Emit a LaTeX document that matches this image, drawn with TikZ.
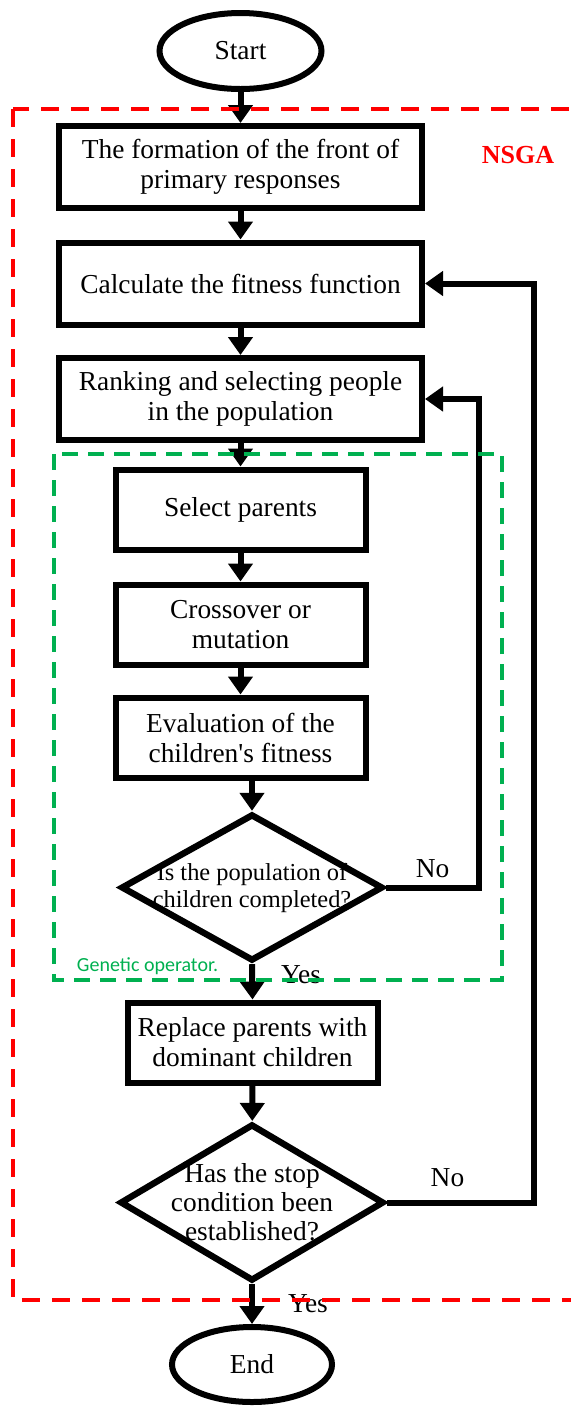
\documentclass[tikz,border=0pt]{standalone}
\usepackage{fontspec}
\setmainfont{Liberation Serif}
\newfontfamily\opfont{Carlito}
\usetikzlibrary{shapes.geometric,arrows.meta}
\definecolor{nsgared}{RGB}{255,0,0}
\definecolor{opgreen}{RGB}{0,176,80}

\begin{document}
\begin{tikzpicture}[x=0.5pt,y=-0.5pt,
    txt/.style={font=\fontsize{13.7}{15}\selectfont},
    procbox/.style={draw,line width=3pt,align=center,inner sep=0pt,txt},
    bigbox/.style={procbox,minimum width=181.5pt,minimum height=41pt},
    smallbox/.style={procbox,minimum width=125pt,minimum height=40pt},
    term/.style={draw,ellipse,line width=3pt,inner sep=0pt,minimum width=81pt,minimum height=38pt,txt},
    decision/.style={draw,diamond,line width=3.2pt,inner sep=0pt},
    flow/.style={line width=3pt,-{Triangle[width=12pt,length=9pt]}},
    frame/.style={line width=2pt,dash pattern=on 9pt off 6pt}]
    \useasboundingbox (0,0) rectangle (570,1410);
    \node[term] (start) at (240.5,51) {Start};
    \node[bigbox] (front) at (240.5,167) {The formation of the front of\\primary responses};
    \node[bigbox] (calc) at (240.5,283.5) {Calculate the fitness function};
    \node[bigbox] (rank) at (240.5,399) {Ranking and selecting people\\in the population};
    \node[smallbox] (sel) at (240.5,509.5) {Select parents};
    \node[smallbox] (cross) at (240.5,624.5) {Crossover or\\mutation};
    \node[smallbox] (evalc) at (240.5,737.5) {Evaluation of the\\children\textquotesingle s fitness};
    \node[decision,minimum width=131pt,minimum height=73.5pt,
      label={[align=center,font=\fontsize{12.2}{13.5}\selectfont]center:{Is the population of\\children completed?}}]
      (full) at (252,887.5) {};
    \node[smallbox] (repl) at (252.5,1042.5) {Replace parents with\\dominant children};
    \node[decision,minimum width=132pt,minimum height=78.5pt,
      label={[align=center,font=\fontsize{13.7}{14.5}\selectfont]center:{Has the stop\\condition been\\established?}}]
      (stop) at (252,1202.5) {};
    \node[term,minimum width=80pt,minimum height=37.5pt] (end) at (252,1364.5) {End};

    \draw[flow] (start) -- (front);
    \draw[flow] (front) -- (calc);
    \draw[flow] (calc) -- (rank);
    \draw[flow] (rank) -- (sel);
    \draw[flow] (sel) -- (cross);
    \draw[flow] (cross) -- (evalc);
    \draw[flow] (evalc.south -| full.north) -- (full.north);
    \draw[flow] (full.south) -- node[pos=0.29,right,inner sep=0pt,xshift=13pt,txt] {Yes} (repl.north);
    \draw[flow] (full.east) -- ++(93,0) node[pos=0.5,above,txt] {No} |- (rank.east);
    \draw[flow] (repl) -- (stop);
    \draw[flow] (stop.east) -- ++(147,0) node[pos=0.41,above,yshift=3pt,txt] {No} |- (calc.east);
    \draw[flow] (stop.south) -- node[pos=0.5,right,inner sep=0pt,xshift=16.5pt,txt] {Yes} (end.north);

    \node[font=\fontsize{13}{15}\selectfont\bfseries,text=nsgared] (nsga) at (518,155) {NSGA};
    \node[font=\opfont\fontsize{10}{12}\selectfont,text=opgreen] (genop) at (147.5,966) {Genetic operator.};
    \draw[frame,nsgared] (13,109) rectangle (600,1300);
    \draw[frame,opgreen,line width=1.75pt,dash pattern=on 8pt off 5pt] (54,454) rectangle (502,980);
\end{tikzpicture}
\end{document}
